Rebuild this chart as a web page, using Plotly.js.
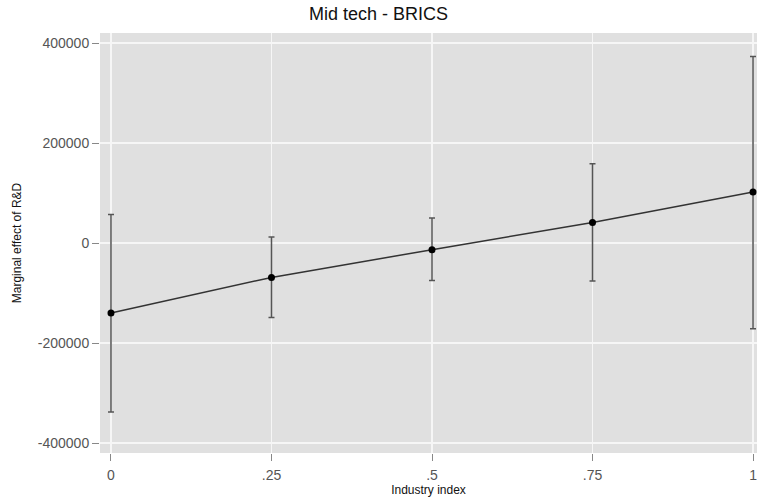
<!DOCTYPE html>
<html>
<head>
<meta charset="utf-8">
<script src="https://cdn.plot.ly/plotly-3.0.1.min.js"></script>
<style>html,body{margin:0;padding:0;background:#fff;}#chart{width:757px;height:499px;}</style>
</head>
<body>
<div id="chart"></div>
<script>
const industryIndex = [0, 0.25, 0.5, 0.75, 1];
const marginalEffect = [-140000, -68800, -13400, 41200, 102000];
const ciUpper = [57000, 12000, 50000, 158600, 373000];
const ciLower = [-338000, -148800, -74800, -76000, -171400];
const xTickVals = [0, 0.25, 0.5, 0.75, 1];
const xTickText = ["0", ".25", ".5", ".75", "1"];
const yTickVals = [-400000, -200000, 0, 200000, 400000];
const yTickText = ["-400000", "-200000", "0", "200000", "400000"];

const errPlus = marginalEffect.map((v, i) => ciUpper[i] - v);
const errMinus = marginalEffect.map((v, i) => v - ciLower[i]);

const trace = {
  x: industryIndex,
  y: marginalEffect,
  type: 'scatter',
  mode: 'lines+markers',
  line: {color: '#333333', width: 1.5},
  marker: {color: '#000000', size: 7},
  error_y: {type: 'data', symmetric: false, array: errPlus, arrayminus: errMinus,
            color: '#555555', thickness: 1.5, width: 3},
  showlegend: false,
  hoverinfo: 'x+y'
};

const layout = {
  width: 757, height: 499,
  margin: {l: 100, r: 0, t: 33, b: 46},
  paper_bgcolor: '#ffffff',
  plot_bgcolor: '#e0e0e0',
  font: {family: 'Liberation Sans, Arial, sans-serif', color: '#444'},
  title: {text: 'Mid tech - BRICS', x: 0.5, xanchor: 'center', y: 0.972, yanchor: 'middle',
          font: {size: 18, color: '#111'}},
  xaxis: {
    range: [-0.0171, 1.0062],
    tickvals: xTickVals, ticktext: xTickText,
    ticks: 'outside', ticklen: 7, tickcolor: '#888', tickwidth: 1,
    ticklabeloverflow: 'allow', ticklabelstandoff: 2,
    showgrid: true, gridcolor: '#f6f6f6', gridwidth: 1.5,
    zeroline: false, showline: false,
    tickfont: {size: 14, color: '#555'},
    title: {text: 'Industry index', font: {size: 12, color: '#111'}, standoff: 1}
  },
  yaxis: {
    range: [-420000, 420000],
    tickvals: yTickVals, ticktext: yTickText,
    ticks: 'outside', ticklen: 7, tickcolor: '#888', tickwidth: 1,
    ticklabeloverflow: 'allow',
    showgrid: true, gridcolor: '#f6f6f6', gridwidth: 1.5,
    zeroline: false, showline: false,
    tickfont: {size: 14, color: '#555'},
    title: {text: 'Marginal effect of R&D', font: {size: 12, color: '#111'}, standoff: 13}
  }
};

Plotly.newPlot('chart', [trace], layout, {displayModeBar: false, staticPlot: true});
</script>
</body>
</html>
